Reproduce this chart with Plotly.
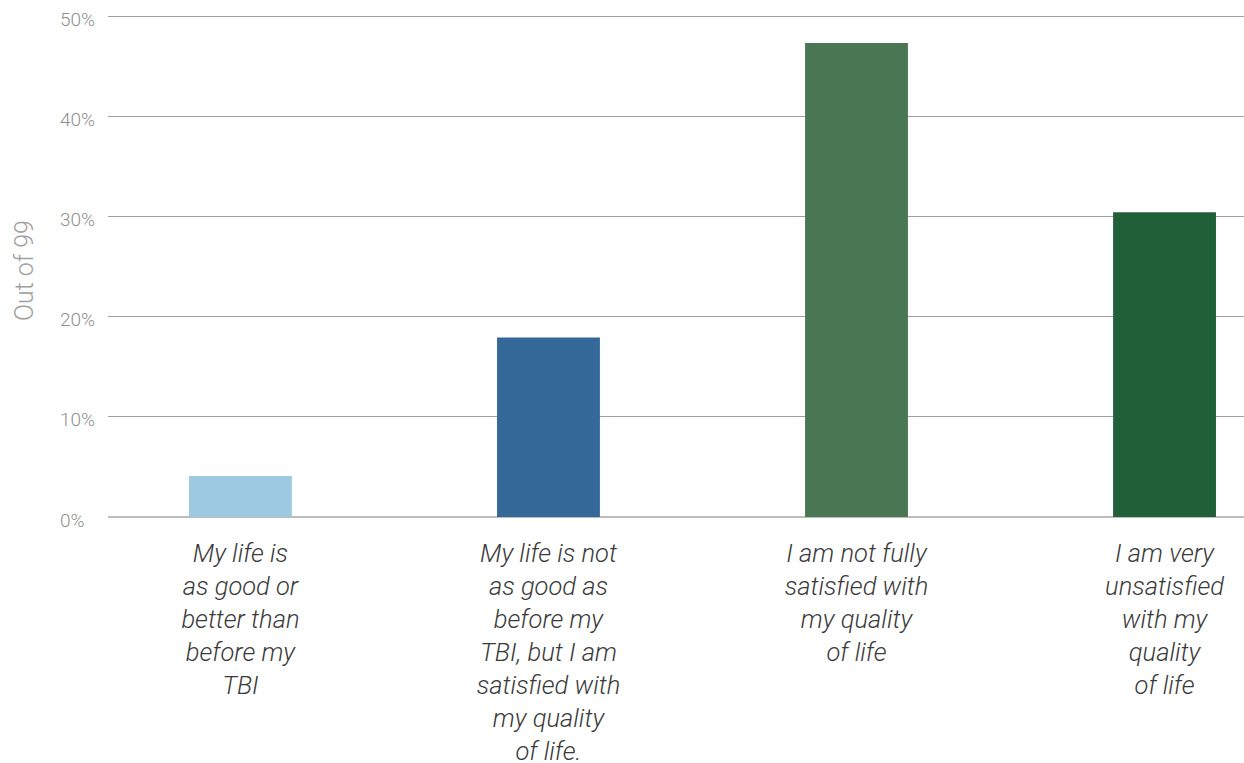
import plotly.graph_objects as go

categories = [
    "My life is<br>as good or<br>better than<br>before my<br>TBI",
    "My life is not<br>as good as<br>before my<br>TBI, but I am<br>satisfied with<br>my quality<br>of life.",
    "I am not fully<br>satisfied with<br>my quality<br>of life",
    "I am very<br>unsatisfied<br>with my<br>quality<br>of life",
]
percent_values = [4.1, 17.9, 47.3, 30.4]
bar_colors = ["#9ECAE1", "#346899", "#4A7753", "#1F6039"]
y_tick_vals = [0, 10, 20, 30, 40, 50]
y_tick_text = ["0%", "10%", "20%", "30%", "40%", "50%"]

W, H = 1244, 763
px_per_unit = (517 - 16) / 50.0
top_units = 16 / px_per_unit
bot_units = 2.4
ML, MR = 56, 0
MT = 0
MB = int(round(H - (517 + bot_units * px_per_unit)))
plot_left = 108
dom0 = (plot_left - ML) / (W - ML - MR)
label_standoff = 6 - int(round((bot_units - 1.2) * px_per_unit))

fig = go.Figure(
    go.Bar(
        x=categories,
        y=percent_values,
        marker=dict(color=bar_colors, line=dict(width=0)),
        width=0.334,
        hoverinfo="skip",
    )
)

fig.update_layout(
    width=W,
    height=H,
    margin=dict(l=ML, r=MR, t=MT, b=MB, pad=0, autoexpand=False),
    paper_bgcolor="white",
    plot_bgcolor="white",
    showlegend=False,
    font=dict(family="Roboto", color="#999999"),
    xaxis=dict(
        domain=[dom0, 1],
        range=[-0.430, 3.258],
        automargin=False,
        showgrid=False,
        showline=False,
        zeroline=False,
        ticks="",
        tickangle=0,
        ticklabelstandoff=label_standoff,
        tickfont=dict(family="Roboto", size=25.5, color="#3a3a3a", style="italic", weight=300),
        fixedrange=True,
    ),
    yaxis=dict(
        anchor="free",
        position=0,
        automargin=False,
        range=[-bot_units, 50 + top_units],
        tickvals=y_tick_vals,
        ticktext=y_tick_text,
        ticklabelposition="inside",
        ticklabelshift=3,
        tickfont=dict(family="Roboto", size=19, color="#8F8F8F", weight=300),
        ticks="",
        showline=False,
        gridcolor="#A0A0A0",
        gridwidth=1,
        zeroline=True,
        zerolinecolor="#BDBDBD",
        zerolinewidth=2,
        title=dict(text="Out of 99", font=dict(family="Roboto", size=25, color="#A0A0A0", weight=300), standoff=18),
        fixedrange=True,
    ),
)

fig.write_html("out.html")
